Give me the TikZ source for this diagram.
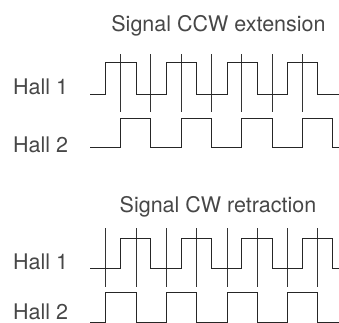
\documentclass[tikz,border=0pt]{standalone}
\usepackage{fontspec}
\setmainfont{TeX Gyre Heros}
\usepackage{tikz}
\tikzset{
	wave/.style={line width=1pt, black!85, line join=miter},
	mark line/.style={line width=1pt, black!80},
	label text/.style={text=black!72, font=\fontsize{21.5}{25}\selectfont, inner sep=0pt},
}

\begin{document}
\begin{tikzpicture}[x=1pt,y=-1pt]
	\useasboundingbox (0,0) rectangle (339,322);
	% top: CCW extension
	\node[label text, anchor=base] (title ccw) at (218.5,31) {Signal CCW extension};
	\node[label text, anchor=base west] (hall a ccw) at (13,94) {Hall 1};
	\node[label text, anchor=base west] (hall b ccw) at (13,152) {Hall 2};
	\foreach \k in {0,...,6}
		\draw[mark line] ({120.5+30.3*\k},54) -- ({120.5+30.3*\k},112);
	\draw[wave] (90,94) foreach \k in {0,...,3} { -- ({105.8+60.6*\k},94) -- ++(0,-32) -- ++(30.3,0) -- ++(0,32) } -- (339,94);
	\draw[wave] (90,147) foreach \k in {0,...,3} { -- ({120.5+60.6*\k},147) -- ++(0,-29) -- ++(30.3,0) -- ++(0,29) } -- (339,147);
	% bottom: CW retraction
	\node[label text, anchor=base] (title cw) at (218,212) {Signal CW retraction};
	\node[label text, anchor=base west] (hall a cw) at (13,269) {Hall 1};
	\node[label text, anchor=base west] (hall b cw) at (13,319.5) {Hall 2};
	\foreach \k in {0,...,7}
		\draw[mark line] ({105.8+30.3*\k},228) -- ({105.8+30.3*\k},287);
	\draw[wave] (90,268) foreach \k in {0,...,3} { -- ({120.5+60.6*\k},268) -- ++(0,-30) -- ++(30.3,0) -- ++(0,30) } -- (339,268);
	\draw[wave] (90,322) foreach \k in {0,...,3} { -- ({105.8+60.6*\k},322) -- ++(0,-30) -- ++(30.3,0) -- ++(0,30) } -- (339,322);
\end{tikzpicture}
\end{document}
